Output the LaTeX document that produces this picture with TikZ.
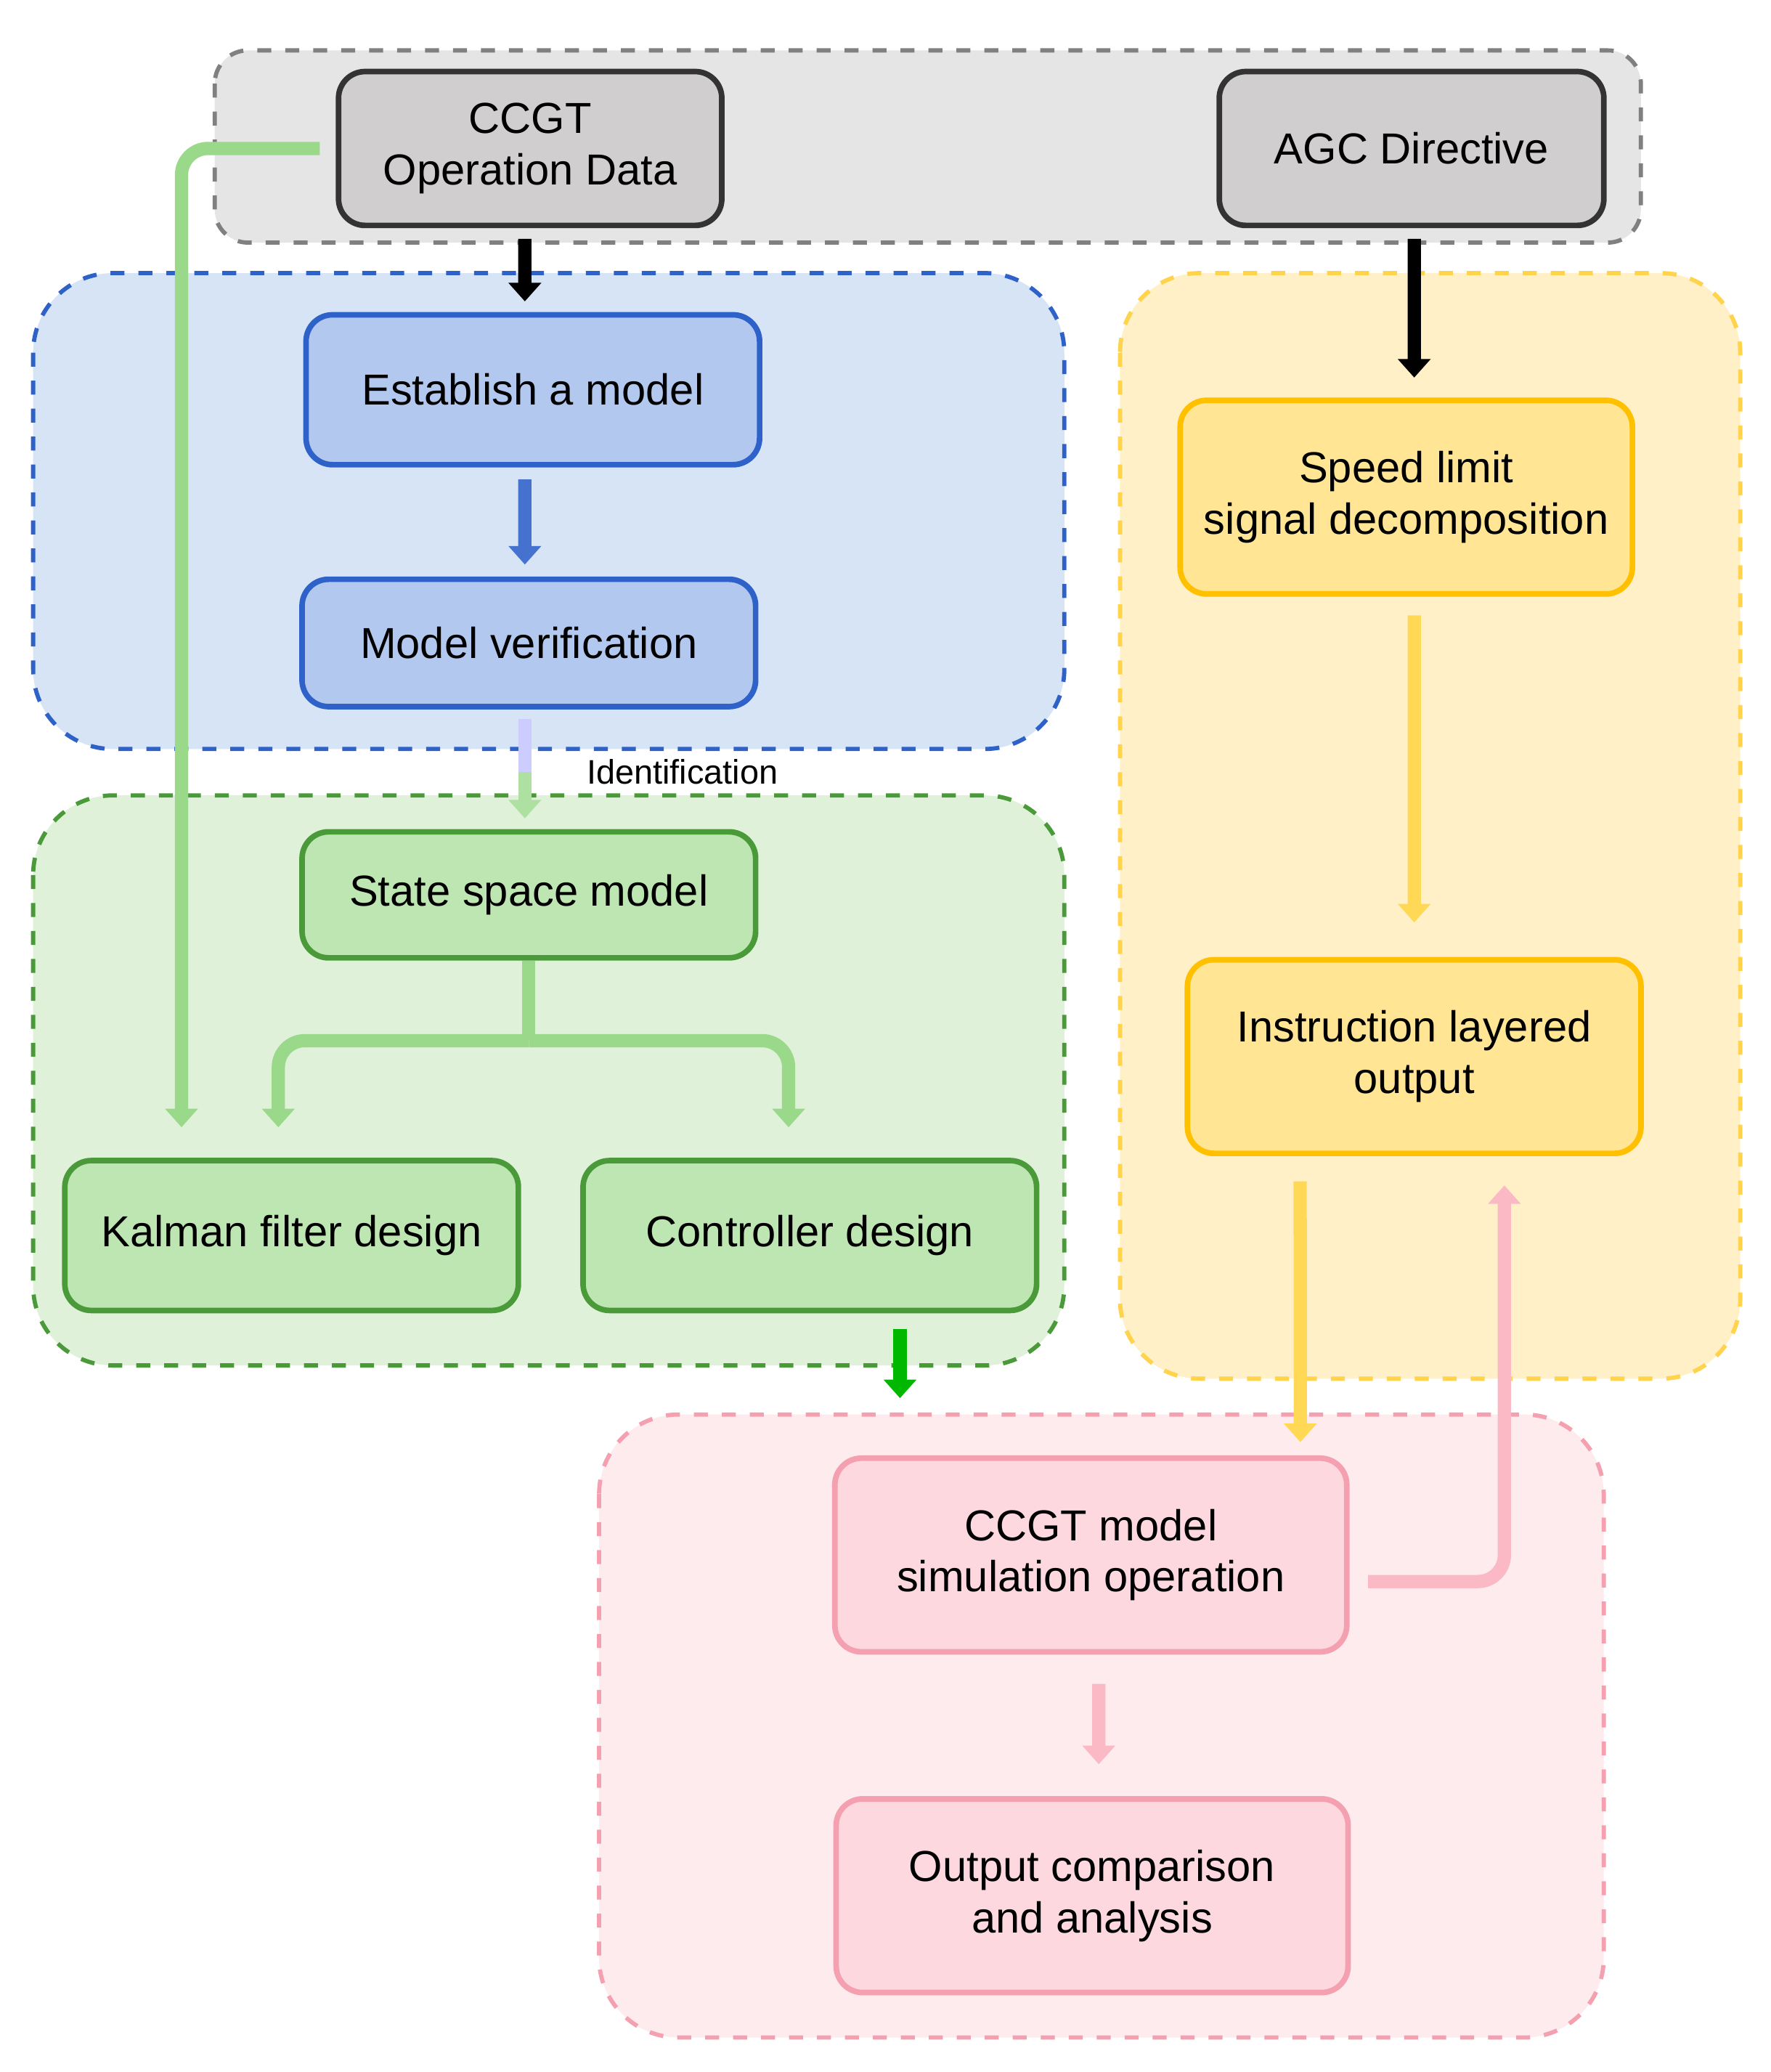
\documentclass[tikz,border=0pt]{standalone}
\usepackage{fontspec}
\setmainfont{Liberation Sans}
\usetikzlibrary{arrows.meta}
\definecolor{grayfill}{HTML}{D0CECE}
\definecolor{bluefill}{HTML}{B2C8EE}
\definecolor{blueline}{HTML}{2F62C8}
\definecolor{bluegrp}{HTML}{D6E4F5}
\definecolor{greenfill}{HTML}{BEE6B2}
\definecolor{greenline}{HTML}{4A9A3A}
\definecolor{greengrp}{HTML}{E0F1DA}
\definecolor{greenarrow}{HTML}{9AD98A}
\definecolor{yellowfill}{HTML}{FFE594}
\definecolor{yellowline}{HTML}{FFC000}
\definecolor{yellowgrp}{HTML}{FFF0C7}
\definecolor{yellowarrow}{HTML}{FFD955}
\definecolor{pinkfill}{HTML}{FDD9DF}
\definecolor{pinkline}{HTML}{F4A0B0}
\definecolor{pinkgrp}{HTML}{FDEBEE}
\definecolor{pinkarrow}{HTML}{FBB9C5}
\tikzset{
  box/.style={draw, rounded corners=0.2cm, line width=1.2pt, align=center, inner sep=0pt, font=\fontsize{9.3pt}{11pt}\selectfont},
  grp/.style={dashed, rounded corners=0.6cm, line width=0.9pt},
  flow/.style={line width=0.1cm, -{Triangle[width=0.24cm,length=0.14cm]}, rounded corners=0.2cm},
}
\begin{document}
\begin{tikzpicture}[x=0.01cm, y=-0.01cm]
  \useasboundingbox (0,0) rectangle (1336,1563);
  %%% group backgrounds
  \draw[grp, rounded corners=0.25cm, draw=gray, fill=gray!20] (162,38) rectangle (1238,183);
  \draw[grp, draw=blueline, fill=bluegrp] (25,206) rectangle (803,565);
  \draw[grp, draw=greenline, fill=greengrp] (25,600) rectangle (803,1030);
  \draw[grp, draw=yellowline!70, fill=yellowgrp] (845,206) rectangle (1313,1040);
  \draw[grp, draw=pinkline, fill=pinkgrp] (452,1067) rectangle (1210,1537);

  %%% boxes
  \node[box, fill=grayfill, draw=black!80, minimum width=2.89cm, minimum height=1.16cm] (ccgt) at (400,112) {CCGT\\Operation Data};
  \node[box, fill=grayfill, draw=black!80, minimum width=2.9cm, minimum height=1.16cm] (agc) at (1065,112) {AGC Directive};
  \node[box, fill=bluefill, draw=blueline, minimum width=3.42cm, minimum height=1.13cm] (est) at (402,294) {Establish a model};
  \node[box, fill=bluefill, draw=blueline, minimum width=3.42cm, minimum height=0.96cm] (verif) at (399,485) {Model verification};
  \node[box, fill=greenfill, draw=greenline, minimum width=3.42cm, minimum height=0.95cm] (ssm) at (399,675) {State space model};
  \node[box, fill=greenfill, draw=greenline, minimum width=3.42cm, minimum height=1.13cm] (kalman) at (220,932) {Kalman filter design};
  \node[box, fill=greenfill, draw=greenline, minimum width=3.42cm, minimum height=1.13cm] (ctrl) at (611,932) {Controller design};
  \node[box, fill=yellowfill, draw=yellowline, minimum width=3.41cm, minimum height=1.46cm] (speed) at (1061,375) {Speed limit\\signal decomposition};
  \node[box, fill=yellowfill, draw=yellowline, minimum width=3.42cm, minimum height=1.46cm] (instr) at (1067,797) {Instruction layered\\output};
  \node[box, fill=pinkfill, draw=pinkline, minimum width=3.86cm, minimum height=1.46cm] (sim) at (823,1173) {CCGT model\\simulation operation};
  \node[box, fill=pinkfill, draw=pinkline, minimum width=3.86cm, minimum height=1.46cm] (comp) at (824,1430) {Output comparison\\and analysis};

  %%% connectors
  \draw[flow, black] ([xshift=-0.04cm, yshift=-0.08cm]ccgt.south) -- ([xshift=-0.06cm, yshift=0.08cm]est.north);
  \draw[flow, black] ([xshift=0.02cm, yshift=-0.08cm]agc.south) -- ([xshift=0.06cm, yshift=0.15cm]speed.north);
  \draw[flow, blueline!90] ([xshift=-0.06cm, yshift=-0.09cm]est.south) -- ([xshift=-0.03cm, yshift=0.09cm]verif.north);
  \draw[line width=0.1cm, blue!20] ([xshift=-0.03cm, yshift=-0.07cm]verif.south) -- ++(0,40);
  \draw[flow, greenarrow!80] ([xshift=-0.03cm, yshift=-0.47cm]verif.south) -- ([xshift=-0.03cm, yshift=0.08cm]ssm.north)
    node[pos=0, right=0.3cm, text=black, font=\fontsize{7.3pt}{9pt}\selectfont] (ident) {Identification};
  \coordinate (split) at (399,785);
  \draw[line width=0.1cm, greenarrow] (ssm.south) -- (split);
  \draw[flow, greenarrow] (split) -| ([xshift=-0.1cm, yshift=0.23cm]kalman.north);
  \draw[flow, greenarrow] (split) -| ([xshift=-0.16cm, yshift=0.23cm]ctrl.north);
  \draw[flow, greenarrow] ([xshift=-0.12cm]ccgt.west) -| ([xshift=-0.83cm, yshift=0.23cm]kalman.north);
  \draw[flow, green!60!black!70!green] ([xshift=0.68cm, yshift=-0.12cm]ctrl.south) -- ([xshift=0.68cm, yshift=-0.64cm]ctrl.south);
  \draw[flow, yellowarrow] ([xshift=0.06cm, yshift=-0.14cm]speed.south) -- ([yshift=0.26cm]instr.north);
  \draw[flow, yellowarrow] ([xshift=-0.86cm, yshift=-0.19cm]instr.south) -- ([xshift=1.58cm, yshift=0.1cm]sim.north);
  \draw[flow, pinkarrow] ([xshift=0.14cm, yshift=-0.2cm]sim.east) -| ([xshift=0.68cm, yshift=-0.22cm]instr.south);
  \draw[flow, pinkarrow] ([xshift=0.06cm, yshift=-0.22cm]sim.south) -- ([xshift=0.05cm, yshift=0.24cm]comp.north);
\end{tikzpicture}
\end{document}
